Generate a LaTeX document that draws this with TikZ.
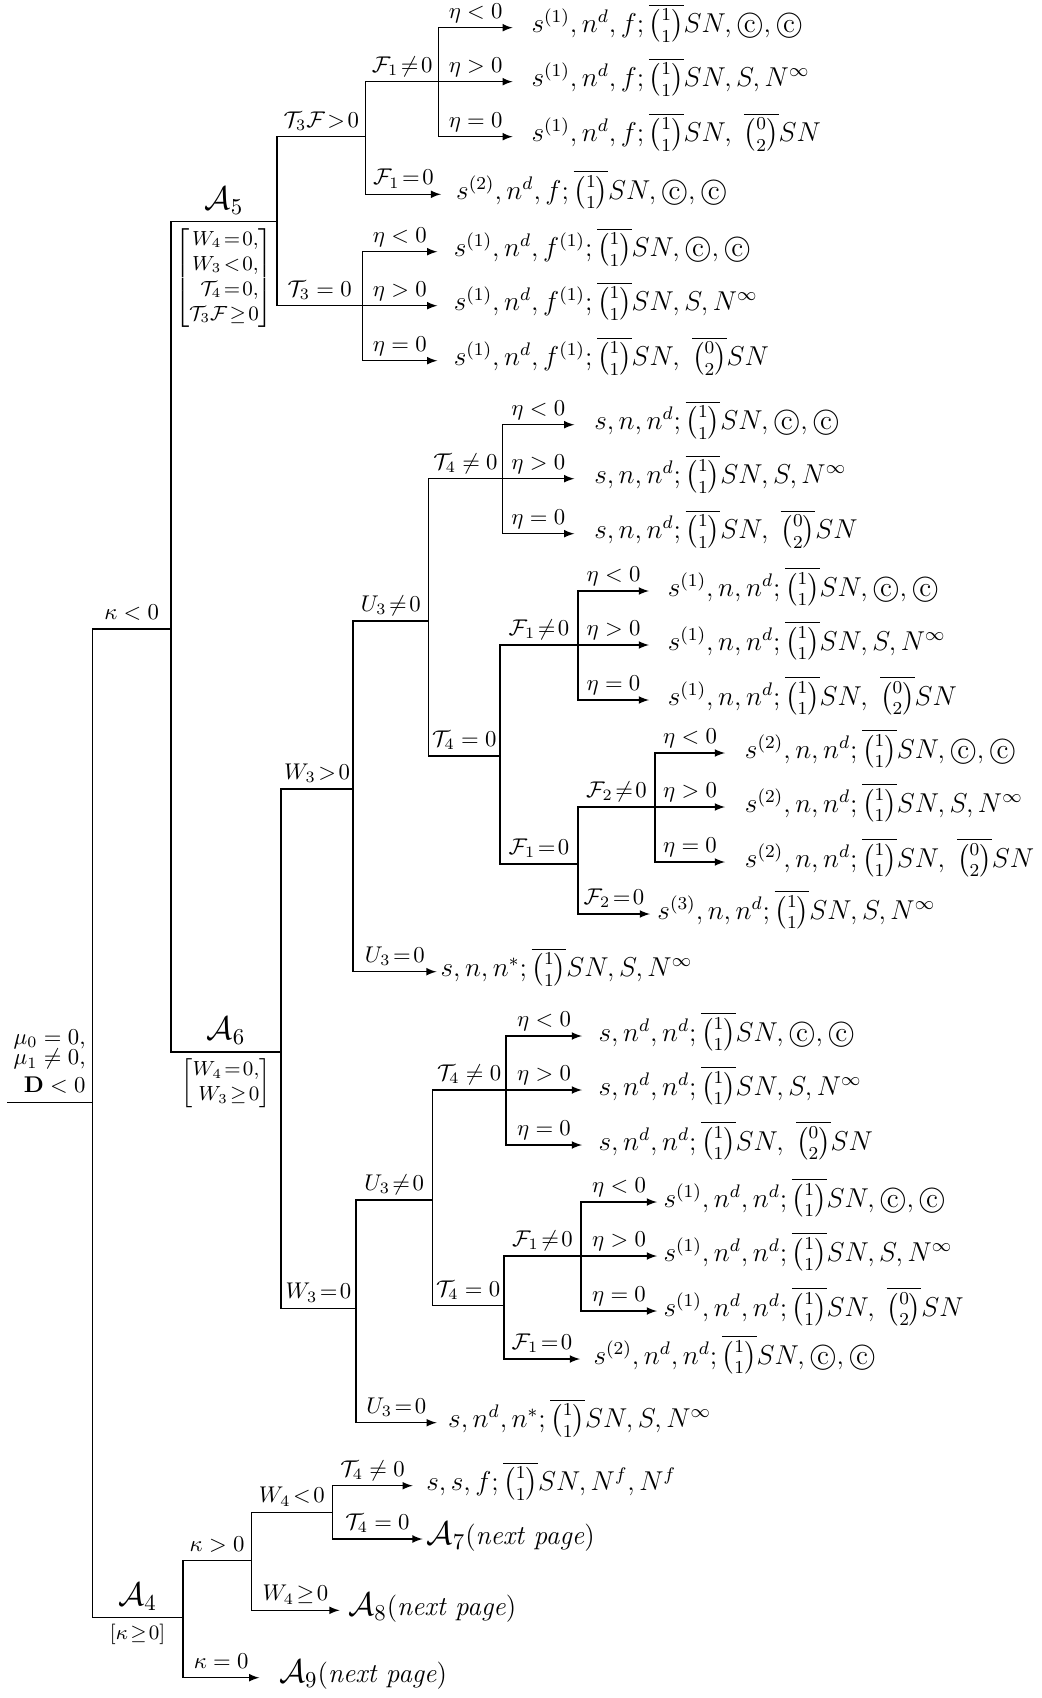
\documentclass[tikz,border=0pt]{standalone}
\usepackage{amsmath}

\newcommand\bo{\overline{\tbinom{1}{1}}}
\newcommand\bz{\overline{\tbinom{0}{2}}}
\newcommand\cop{\text{\ooalign{$\bigcirc$\cr\hidewidth c\hidewidth\cr}}}

\begin{document}
\begin{tikzpicture}[x=0.44pt, y=-0.44pt, >=latex, line width=0.55pt,
    lbl/.style={pos=.75, anchor=base, yshift=4.2pt},
    nm/.style={pos=.75, anchor=base, yshift=5.5pt, font=\Large},
    cnd/.style={pos=.75, anchor=north, yshift=-2.5pt, inner sep=0pt, font=\small},
    res/.style={anchor=west, font=\large, text height=9pt, text depth=4.5pt, inner ysep=0pt}]
    \useasboundingbox (0,0) rectangle (1041,1698);
    \coordinate (o)  at (7,1102.7);
    \coordinate (r)  at (92.3,1102.7);
    \coordinate (kn) at (171,629);
    \coordinate (a5) at (277,221.7);
    \coordinate (tf) at (365.7,136.7);
    \coordinate (e1) at (438.7,81.7);
    \coordinate (e2) at (362.3,305.7);
    \coordinate (a6) at (281,1052);
    \coordinate (wp) at (353,789);
    \coordinate (up) at (428.7,621);
    \coordinate (e3) at (502.3,478.7);
    \coordinate (tp) at (500,756);
    \coordinate (e4) at (578,645);
    \coordinate (fp) at (578,864);
    \coordinate (e5) at (655,807);
    \coordinate (wz) at (356,1308.3);
    \coordinate (uz) at (432.3,1200);
    \coordinate (e6) at (506,1090);
    \coordinate (tz) at (504,1305.7);
    \coordinate (e7) at (581,1256);
    \coordinate (a4) at (183,1617.7);
    \coordinate (kp) at (251.2,1560.7);
    \coordinate (wn) at (332.4,1512.3);

    \node[res, inner xsep=6.4pt] (l1) at (441,194.3) {$s^{(2)}, n^d, f; \bo SN, \cop, \cop$};
    \node[res, inner xsep=3pt] (l2) at (650,914) {$s^{(3)}, n, n^d; \bo SN, S, N^\infty$};
    \node[res, inner xsep=1.5pt] (l3) at (436.5,971.7) {$s, n, n^*; \bo SN, S, N^\infty$};
    \node[res, inner xsep=5.7pt] (l4) at (580,1359) {$s^{(2)}, n^d, n^d; \bo SN, \cop, \cop$};
    \node[res, inner xsep=4.8pt] (l5) at (436.7,1422.7) {$s, n^d, n^*; \bo SN, S, N^\infty$};
    \node[res, inner xsep=5.7pt] (l6) at (412.7,1485.7) {$s, s, f; \bo SN, N^f, N^f$};
    \node[res, inner xsep=1.5pt] (l7) at (422.6,1539) {{\Large$\mathcal{A}_7$}(\textit{next page})};
    \node[res, inner xsep=3.5pt] (l8) at (339.6,1610.3) {{\Large$\mathcal{A}_8$}(\textit{next page})};
    \node[res, inner xsep=8.4pt] (l9) at (259.3,1677.7) {{\Large$\mathcal{A}_9$}(\textit{next page})};

    \foreach \e/\tip/\gap/\pre in {
        e1/74/8/{s^{(1)}, n^d, f},
        e2/75/7/{s^{(1)}, n^d, f^{(1)}},
        e3/72/8.5/{s, n, n^d},
        e4/71/8/{s^{(1)}, n, n^d},
        e5/70/8.5/{s^{(2)}, n, n^d},
        e6/76/7/{s, n^d, n^d},
        e7/76/2.6/{s^{(1)}, n^d, n^d}}{
        \foreach \i/\dy/\cmp/\suf in {1/-54/</{\cop, \cop}, 2/0/>/{S, N^\infty}, 3/55/=/{\;\bz SN}}{
            \node[res, inner xsep=\gap pt] (\e\i) at ([shift={(\tip,\dy)}]\e) {$\pre; \bo SN, \suf$};
            \draw[->] (\e) |- (\e\i.west) node[lbl] {$\eta\cmp 0$};
        }
    }

    \draw (o) -- (r) node[midway, anchor=south, align=right, inner sep=1pt, yshift=3pt] {$\mu_0=0,$\\[-3pt]$\mu_1\neq0,$\\$\mathbf{D}<0$};
    \draw (r) |- (kn) node[lbl] {$\kappa<0$};
    \draw (kn) |- (a5) node[nm] {$\mathcal{A}_5$} node[cnd] {$\left[\begin{array}{@{}r@{}}W_4\!=\!0,\\W_3\!<\!0,\\\mathcal{T}_4\!=\!0,\\\mathcal{T}_3\mathcal{F}\!\geq\!0\end{array}\right]$};
    \draw (a5) |- (tf) node[lbl] {$\mathcal{T}_3\mathcal{F}\!>\!0$};
    \draw (tf) |- (e1) node[lbl] {$\mathcal{F}_1\!\neq\!0$};
    \draw[->] (tf) |- (l1.west) node[lbl] {$\mathcal{F}_1\!=\!0$};
    \draw (a5) |- (e2) node[lbl] {$\mathcal{T}_3=0$};
    \draw (kn) |- (a6) node[nm] {$\mathcal{A}_6$} node[cnd] {$\left[\begin{array}{@{}r@{}}W_4\!=\!0,\\W_3\!\geq\!0\end{array}\right]$};
    \draw (a6) |- (wp) node[lbl] {$W_3\!>\!0$};
    \draw (wp) |- (up) node[lbl] {$U_3\!\neq\!0$};
    \draw (up) |- (e3) node[lbl] {$\mathcal{T}_4\neq0$};
    \draw (up) |- (tp) node[lbl] {$\mathcal{T}_4=0$};
    \draw (tp) |- (e4) node[lbl] {$\mathcal{F}_1\!\neq\!0$};
    \draw (tp) |- (fp) node[lbl] {$\mathcal{F}_1\!=\!0$};
    \draw (fp) |- (e5) node[lbl] {$\mathcal{F}_2\!\neq\!0$};
    \draw[->] (fp) |- (l2.west) node[lbl] {$\mathcal{F}_2\!=\!0$};
    \draw[->] (wp) |- (l3.west) node[lbl] {$U_3\!=\!0$};
    \draw (a6) |- (wz) node[lbl] {$W_3\!=\!0$};
    \draw (wz) |- (uz) node[lbl] {$U_3\!\neq\!0$};
    \draw (uz) |- (e6) node[lbl] {$\mathcal{T}_4\neq0$};
    \draw (uz) |- (tz) node[lbl] {$\mathcal{T}_4=0$};
    \draw (tz) |- (e7) node[lbl] {$\mathcal{F}_1\!\neq\!0$};
    \draw[->] (tz) |- (l4.west) node[lbl] {$\mathcal{F}_1\!=\!0$};
    \draw[->] (wz) |- (l5.west) node[lbl] {$U_3\!=\!0$};
    \draw (r) |- (a4) node[nm] {$\mathcal{A}_4$} node[cnd] {$[\kappa\!\geq\!0]$};
    \draw (a4) |- (kp) node[lbl] {$\kappa>0$};
    \draw (kp) |- (wn) node[lbl] {$W_4\!<\!0$};
    \draw[->] (wn) |- (l6.west) node[lbl] {$\mathcal{T}_4\neq0$};
    \draw[->] (wn) |- (l7.west) node[lbl] {$\mathcal{T}_4=0$};
    \draw[->] (kp) |- (l8.west) node[lbl] {$W_4\!\geq\!0$};
    \draw[->] (a4) |- (l9.west) node[lbl] {$\kappa=0$};
\end{tikzpicture}
\end{document}
